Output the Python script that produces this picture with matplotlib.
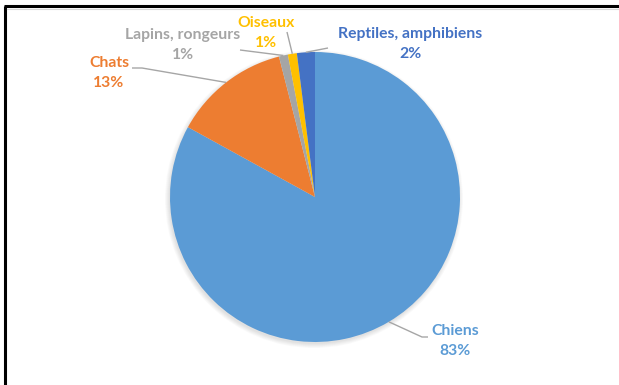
import numpy as np
import matplotlib.pyplot as plt
from matplotlib.patches import Circle

# animaux de compagnie, en % des foyers
categories = ['Chiens', 'Chats', 'Lapins, rongeurs', 'Oiseaux', 'Reptiles, amphibiens']
values = [83, 13, 1, 1, 2]
colors = ['#5B9BD5', '#ED7D31', '#A5A5A5', '#FFC000', '#4472C4']

W, H = 619, 385
cx, cy, r = 315, H - 197, 145

fig = plt.figure(figsize=(W / 100, H / 100), dpi=100)
ax = fig.add_axes([0, 0, 1, 1])

# soft shadow under the pie
for k in range(6):
    ax.add_patch(Circle((cx - 1, cy - 2), r + 4 - k * 0.8, color='black',
                        alpha=0.018, lw=0, zorder=1))

wedges, _ = ax.pie(values, colors=colors, startangle=90, counterclock=False,
                   center=(cx, cy), radius=r, frame=True,
                   wedgeprops=dict(linewidth=0, zorder=2))
ax.set_xlim(0, W)
ax.set_ylim(0, H)
ax.set_aspect('equal')
ax.axis('off')

# label positions (pixel, from top) and leader line bends
label_xy = [(455, 341), (109, 73), (183, 45), (266, 33), (410, 44)]
leaders = [[(422, 337), (428, 337)],
           [(142, 68), (132, 68)],
           [(240, 50)],
           [(287, 32)],
           [(328, 48)]]

font = dict(family=['Lato', 'DejaVu Sans'], fontsize=11.3, fontweight='bold')
cum = np.cumsum([0] + values)
for i, (name, v) in enumerate(zip(categories, values)):
    mid = (cum[i] + v / 2) / sum(values) * 2 * np.pi
    sx, sy = cx + r * np.sin(mid), cy + r * np.cos(mid)
    pts = [(sx, sy)] + [(px, H - py) for px, py in leaders[i]]
    ax.plot([p[0] for p in pts], [p[1] for p in pts], color='#A6A6A6',
            lw=1.0, zorder=3, solid_capstyle='butt')
    lx, ly = label_xy[i]
    ax.text(lx, H - ly, f'{name}\n{v}%', color=colors[i], ha='center',
            va='center', linespacing=1.5, zorder=4, **font)

# chart frame
ax.plot([4, W], [H - 6, H - 6], color='black', lw=2.2, solid_capstyle='butt', zorder=5)
ax.plot([5, 5], [0, H - 6], color='black', lw=2.2, solid_capstyle='butt', zorder=5)
ax.plot([7, W], [H - 9, H - 9], color='#D9D9D9', lw=0.8, zorder=5)

fig.savefig('out.png', dpi=100)
